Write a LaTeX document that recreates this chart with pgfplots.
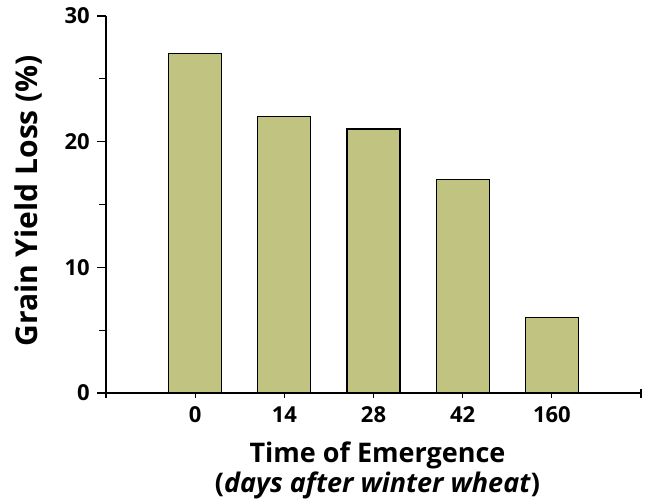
\documentclass[border=0pt]{standalone}
\usepackage{fontspec}
\setmainfont{Open Sans}
\usepackage{pgfplots}
\pgfplotsset{compat=1.18}
\definecolor{barc}{RGB}{193,196,128}
\begin{document}
\begin{tikzpicture}
\useasboundingbox (0,0) rectangle (650pt,501pt);
\begin{axis}[
  at={(106pt,108pt)}, anchor=south west,
  scale only axis, width=535pt, height=377pt,
  xmin=-1, xmax=5, ymin=0, ymax=30,
  axis x line*=bottom, axis y line*=left,
  axis line style={line width=1.3pt,-},
  xtick={-1,0,1,2,3,4,5},
  xticklabels={,0,14,28,42,160,},
  ytick={0,10,20,30},
  minor ytick={5,15,25},
  x tick style={line width=1.3pt,black},
  y tick style={line width=1.3pt,black},
  xtick align=center,
  ytick align=outside,
  major tick length=9pt,
  minor tick length=7pt,
  tick label style={font=\fontsize{22}{26}\selectfont\bfseries},
  xticklabel style={anchor=north, inner sep=0pt, yshift=-9pt},
  yticklabel style={anchor=east, inner sep=0pt, xshift=-7pt},
  /pgf/number format/assume math mode=true,
  xlabel={Time of Emergence\\(\textit{days after winter wheat})},
  xlabel style={font=\fontsize{27}{30}\selectfont\bfseries, align=center,
    at={(axis description cs:0.5,0)}, anchor=north, inner sep=0pt, yshift=-49pt, xshift=4pt},
  ylabel={Grain Yield Loss (\%)},
  ylabel style={font=\fontsize{30}{34}\selectfont\bfseries,
    at={(axis description cs:0,0.51)}, anchor=south, inner sep=0pt, yshift=64pt},
  clip=false,
]
\addplot[ybar, bar width=53pt, fill=barc, draw=black, line width=1.3pt] coordinates {
(0,27) (1,22) (2,21) (3,17) (4,6)
};
\end{axis}
\end{tikzpicture}
\end{document}
